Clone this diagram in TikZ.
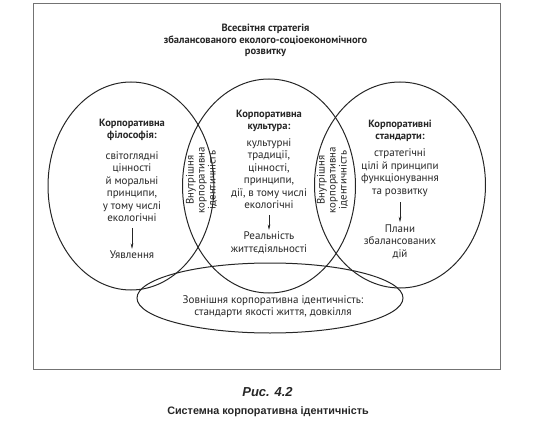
\documentclass[tikz,border=0pt]{standalone}
\usepackage{fontspec}
\setmainfont{PT Sans}
\newfontfamily\capfont{Liberation Sans}
\usetikzlibrary{arrows.meta}
\begin{document}
\begin{tikzpicture}[x=1pt,y=-1pt,
  ring/.style={draw=black!85,line width=1pt},
  txt/.style={align=center,inner sep=1pt,font=\fontsize{11}{12.5}\selectfont,text=black!85},
  hd/.style={align=center,inner sep=1pt,font=\fontsize{10.5}{12}\selectfont\bfseries,text=black!85},
  ttl/.style={align=center,inner sep=1pt,font=\fontsize{10.5}{11.5}\selectfont\bfseries,text=black!85},
  vtxt/.style={align=center,inner sep=1pt,rotate=90,font=\fontsize{10.8}{11}\selectfont,text=black!85},
  arr/.style={-{Stealth[length=5.5pt,width=2.6pt]},draw=black!85,line width=0.5pt,shorten <=5pt,shorten >=1pt}]
\useasboundingbox (0,0) rectangle (544,436);
\draw[draw=black!55,line width=0.9pt] (33,3) rectangle (500,369);
% circles
\draw[ring] (131,186) ellipse [x radius=83,y radius=104];
\draw[ring] (269,186) ellipse [x radius=86.5,y radius=107];
\draw[ring] (400,185) ellipse [x radius=85.5,y radius=103];
\draw[ring] (270,298) ellipse [x radius=133,y radius=35];
% title
\node[ttl] (title) at (265.5,40.5) {Всесвітня стратегія\\збалансованого еколого-соціоекономічного\\розвитку};
% left
\node[hd] (lh) at (132,130) {Корпоративна\\філософія:};
\node[txt] (lb) at (132,186.5) {світоглядні\\цінності\\й моральні\\принципи,\\у тому числі\\екологічні};
\node[txt] (lr) at (132,255) {Уявлення};
\draw[arr] (lb) -- (lr);
% middle
\node[hd] (mh) at (269,121) {Корпоративна\\культура:};
\node[txt] (mb) at (269,173.5) {культурні\\традиції,\\цінності,\\принципи,\\дії, в тому числі\\екологічні};
\node[txt] (mr) at (269,243) {Реальність\\життєдіяльності};
\draw[arr] (mb) -- (mr);
% right
\node[hd] (rh) at (400,131) {Корпоративні\\стандарти:};
\node[txt] (rb) at (400,172.5) {стратегічні\\цілі й принципи\\функціонування\\та розвитку};
\node[txt] (rr) at (400,241.5) {Плани\\збалансованих\\дій};
\draw[arr] (rb) -- (rr);
% vertical
\node[vtxt] (vl) at (201.5,180) {Внутрішня\\корпоративна\\ідентичність};
\node[vtxt] (vr) at (332.5,180) {Внутрішня\\корпоративна\\ідентичність};
% bottom
\node[txt] (ext) at (273,306.5) {Зовнішня корпоративна ідентичність:\\стандарти якості життя, довкілля};
% caption
\node[inner sep=0pt,font=\capfont\fontsize{13}{15}\selectfont\bfseries\itshape,text=black!85] (fig) at (267.5,392) {Рис. 4.2};
\node[inner sep=0pt,font=\capfont\fontsize{10.8}{13}\selectfont\bfseries,text=black!85] (cap) at (268,412) {Системна корпоративна ідентичність};
\end{tikzpicture}
\end{document}
